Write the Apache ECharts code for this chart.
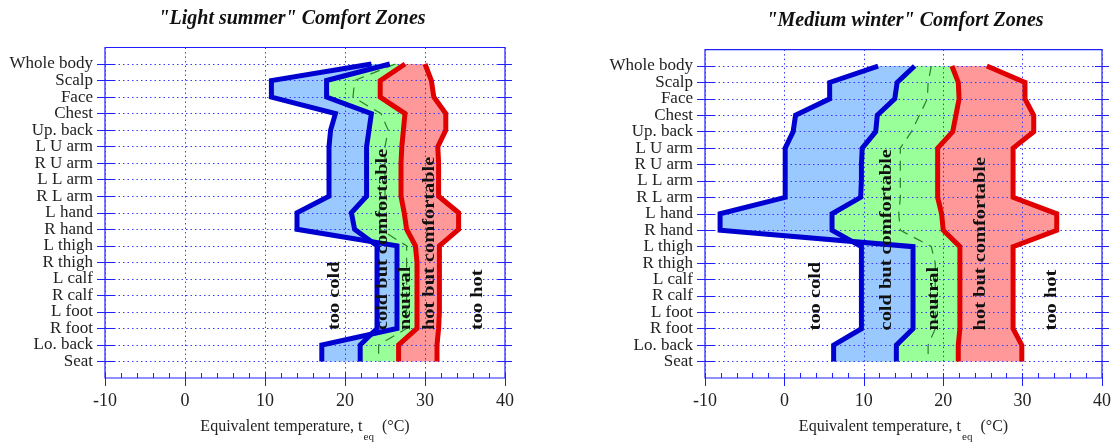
<!DOCTYPE html>
<html><head><meta charset="utf-8">
<script src="https://cdn.jsdelivr.net/npm/echarts@6/dist/echarts.min.js"></script>
<style>html,body{margin:0;padding:0;background:#fff}#c{width:1118px;height:443px}</style>
</head><body><div id="c"></div>
<script>
// ---------- data ----------
const categories = ['Whole body','Scalp','Face','Chest','Up. back','L U arm','R U arm','L L arm','R L arm',
  'L hand','R hand','L thigh','R thigh','L calf','R calf','L foot','R foot','Lo. back','Seat'];
const titles = ['"Light summer" Comfort Zones', '"Medium winter" Comfort Zones'];
const zoneNames = ['too cold','cold but comfortable','neutral','hot but comfortable','too hot'];
const xTickMin = -10, xTickMax = 40, xTickStep = 10;

// Light summer boundaries (°C) per body part
const summerCold    = [23.3,10.8,10.8,18.8,18.2,18.0,18.0,18.0,18.0,14.0,14.0,26.5,26.5,26.5,26.5,26.5,26.5,17.1,17.1];
const summerCool    = [25.6,17.7,17.7,23.3,23.0,22.7,22.7,22.7,22.7,20.8,21.2,24.0,24.0,24.0,24.0,24.0,24.0,21.9,21.9];
const summerWarm    = [27.5,24.4,24.4,27.5,27.3,27.1,27.0,27.0,27.0,27.4,27.7,28.8,29.0,29.0,29.0,29.0,29.0,26.7,26.7];
const summerHot     = [30.0,30.8,31.1,32.6,32.6,31.6,31.7,31.7,31.7,34.2,34.2,31.8,31.8,31.8,31.8,31.8,31.7,31.5,31.5];
const summerNeutral = [26.3,21.2,21.0,24.5,25.4,25.0,25.0,25.0,25.0,24.2,24.4,27.7,27.7,27.7,27.7,27.7,27.7,24.2,24.2];
const summerLabelX  = [18.75,24.75,27.6,30.6,36.6];

// Medium winter boundaries (°C) per body part
const winterCold    = [11.8,5.7,5.7,1.4,1.1,0.1,0.1,0.1,0.1,-8.1,-8.1,16.2,16.2,16.2,16.2,16.2,16.2,14.1,14.1];
const winterCool    = [16.4,14.2,13.9,11.7,11.5,9.8,9.7,9.7,9.6,6.0,6.0,9.7,9.7,9.7,9.7,9.7,9.7,6.2,6.2];
const winterWarm    = [21.1,21.9,22.0,21.6,21.2,19.3,19.3,19.3,19.3,19.8,20.0,22.1,22.1,22.1,22.1,22.1,22.1,21.9,21.9];
const winterHot     = [25.5,30.3,30.3,31.4,31.4,28.8,28.8,28.8,28.8,34.3,34.3,28.8,28.8,28.8,28.8,28.8,28.8,29.9,29.9];
const winterNeutral = [18.5,18.1,18.0,17.0,16.0,14.6,14.6,14.6,14.6,14.4,14.6,18.5,19.0,19.0,19.0,19.0,19.0,18.1,18.1];
const winterLabelX  = [3.9,12.9,18.8,24.7,33.7];
const labelBaseRow = 16.1;

// ---------- styling ----------
const SERIF = '"Liberation Serif","Times New Roman",serif';
const AXIS_BLUE = '#1f1fff';
const GRID_BLUE = '#3a3aff';
const LINE_BLUE = '#0000d0';
const LINE_RED = '#e00000';
const FILL_BLUE = '#99c9ff';
const FILL_GREEN = '#99ff99';
const FILL_PINK = '#ff9999';
const rowVals = categories.map((_, i) => i);

const chart = echarts.init(document.getElementById('c'));

const grids = [
  {left: 105, right: 613, top: 47.5, bottom: 65},
  {left: 705, right: 16, top: 49.6, bottom: 65}
];
const titleCenters = [{x: 292, y: 9}, {x: 905, y: 11}];

const xAxis = [], yAxis = [], series = [], title = [];

function bandSeries(g, a, b, color) {
  return {
    type: 'custom', xAxisIndex: 2 * g, yAxisIndex: 3 * g, z: -1, silent: true,
    data: [[0, 0]],
    renderItem: function (params, api) {
      const pts = [];
      for (let i = 0; i < a.length; i++) pts.push(api.coord([a[i], i]));
      for (let i = b.length - 1; i >= 0; i--) pts.push(api.coord([b[i], i]));
      return {type: 'polygon', shape: {points: pts}, style: {fill: color, stroke: null}};
    }
  };
}
function boundary(g, arr, color) {
  return {
    type: 'line', xAxisIndex: 2 * g, yAxisIndex: 3 * g, z: 3, silent: true,
    symbol: 'none', data: arr.map((v, i) => [v, i]),
    lineStyle: {color: color, width: 5, join: 'miter', miterLimit: 3, cap: 'butt'}
  };
}

[[summerCold, summerCool, summerWarm, summerHot, summerNeutral, summerLabelX],
 [winterCold, winterCool, winterWarm, winterHot, winterNeutral, winterLabelX]].forEach((d, g) => {
  const [cold, cool, warm, hot, neutral, labX] = d;
  title.push({
    text: titles[g], left: titleCenters[g].x, top: titleCenters[g].y, textAlign: 'center', padding: 0,
    textStyle: {fontFamily: SERIF, fontSize: 20, fontWeight: 'bold', fontStyle: 'italic', color: '#111'}
  });
  xAxis.push({
    type: 'value', gridIndex: g, min: xTickMin, max: xTickMax, interval: xTickStep, position: 'bottom',
    axisLine: {show: false, onZero: false},
    axisTick: {show: true, length: 8, lineStyle: {color: AXIS_BLUE, width: 1}},
    axisLabel: {fontFamily: SERIF, fontSize: 18, color: '#222', margin: 14},
    splitLine: {show: true, lineStyle: {color: GRID_BLUE, width: 1, type: [1.5, 3]}},
    name: 'Equivalent temperature, t{sub|eq} (°C)', nameLocation: 'middle', nameGap: 32,
    nameTextStyle: {fontFamily: SERIF, fontSize: 16, color: '#222',
      rich: {sub: {fontFamily: SERIF, fontSize: 11, color: '#222', padding: [22, 4, 0, 1]}}}
  });
  xAxis.push({
    type: 'value', gridIndex: g, min: xTickMin, max: xTickMax, interval: 2, position: 'bottom',
    axisLine: {show: false, onZero: false}, axisLabel: {show: false}, splitLine: {show: false},
    axisTick: {show: true, inside: true, length: 5, lineStyle: {color: AXIS_BLUE, width: 1}}
  });
  const yBase = {type: 'value', gridIndex: g, inverse: true, min: -1, max: categories.length, interval: 1};
  yAxis.push(Object.assign({}, yBase, {
    position: 'left', axisLine: {show: false, onZero: false},
    axisTick: {show: true, length: 8, customValues: rowVals, lineStyle: {color: AXIS_BLUE, width: 1}},
    axisLabel: {fontFamily: SERIF, fontSize: 17, color: '#222', margin: 12,
      formatter: v => (categories[v] !== undefined ? categories[v] : '')},
    splitLine: {show: true, lineStyle: {color: GRID_BLUE, width: 1, type: [1.5, 3]}}
  }));
  yAxis.push(Object.assign({}, yBase, {
    position: 'left', axisLine: {show: false, onZero: false}, axisLabel: {show: false}, splitLine: {show: false},
    axisTick: {show: true, inside: true, length: 10, customValues: rowVals, lineStyle: {color: AXIS_BLUE, width: 1}}
  }));
  yAxis.push(Object.assign({}, yBase, {
    position: 'right', offset: 7, axisLine: {show: false, onZero: false}, axisLabel: {show: false}, splitLine: {show: false},
    axisTick: {show: true, inside: true, length: 14, customValues: rowVals, lineStyle: {color: AXIS_BLUE, width: 1}}
  }));

  series.push(bandSeries(g, cool, warm, FILL_GREEN));
  series.push(bandSeries(g, cold, cool, FILL_BLUE));
  series.push(bandSeries(g, warm, hot, FILL_PINK));
  series.push({
    type: 'line', xAxisIndex: 2 * g, yAxisIndex: 3 * g, z: 2, silent: true, symbol: 'none',
    data: neutral.map((v, i) => [v, i]),
    lineStyle: {color: '#2e7d2e', width: 1.2, type: [10, 7]}
  });
  series.push(boundary(g, cold, LINE_BLUE));
  series.push(boundary(g, cool, LINE_BLUE));
  series.push(boundary(g, warm, LINE_RED));
  series.push(boundary(g, hot, LINE_RED));
  series.push({
    type: 'custom', xAxisIndex: 2 * g, yAxisIndex: 3 * g, z: 5, silent: true,
    data: labX.map(x => [x, labelBaseRow]),
    renderItem: function (params, api) {
      const p = api.coord([api.value(0), api.value(1)]);
      return {type: 'text', x: p[0], y: p[1], rotation: Math.PI / 2, scaleX: 1.2,
        style: {text: zoneNames[params.dataIndex], font: 'bold 17px ' + SERIF, fill: '#111',
          align: 'left', verticalAlign: 'middle'}};
    }
  });
});

chart.setOption({
  animation: false,
  backgroundColor: '#fff',
  title: title,
  grid: grids.map(gr => Object.assign({show: true, borderColor: AXIS_BLUE, borderWidth: 1.2,
    backgroundColor: 'transparent', containLabel: false, outerBoundsMode: 'none'}, gr)),
  xAxis: xAxis,
  yAxis: yAxis,
  series: series
});
</script>
</body></html>
